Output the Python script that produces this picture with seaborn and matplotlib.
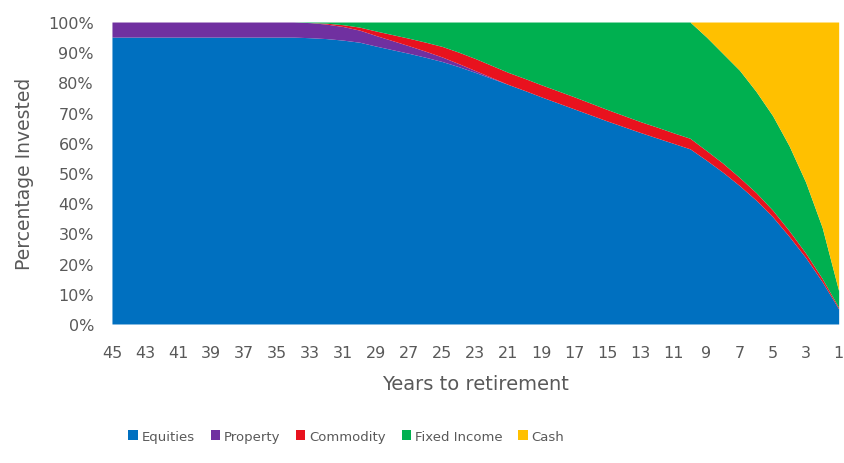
import numpy as np
import pandas as pd
import seaborn as sns
import matplotlib
matplotlib.use("Agg")
import matplotlib.pyplot as plt
from matplotlib.patches import Patch

# Glide path: share of each asset class by years remaining until retirement
years = list(range(45, 0, -1))

equities = [95.0] * 12 + [
    94.8, 94.5, 94.0, 93.3, 92.0, 90.8, 89.6, 88.3, 86.9, 85.2, 83.3, 81.3,
    79.3, 77.3, 75.2, 73.2, 71.2, 69.2, 67.2, 65.3, 63.4, 61.6, 59.8, 58.0,
    54.2, 50.2, 45.8, 41.0, 35.5, 29.0, 22.0, 14.0, 5.0,
]
property_ = [5.0] * 12 + [
    5.0, 4.8, 4.5, 4.0, 3.5, 3.0, 2.5, 2.0, 1.5, 1.0, 0.6, 0.3,
    0.0, 0.0, 0.0, 0.0, 0.0, 0.0, 0.0, 0.0, 0.0, 0.0, 0.0, 0.0,
    0.0, 0.0, 0.0, 0.0, 0.0, 0.0, 0.0, 0.0, 0.0,
]
commodity = [0.0] * 12 + [
    0.0, 0.3, 0.6, 1.0, 1.5, 2.0, 2.5, 3.0, 3.5, 3.8, 4.0, 4.0,
    4.0, 4.0, 4.0, 4.0, 4.0, 3.9, 3.8, 3.7, 3.6, 3.6, 3.5, 3.5,
    3.2, 3.0, 2.7, 2.5, 2.2, 1.9, 1.5, 1.1, 0.5,
]
# upper edge of the fixed-income band (100 until cash starts being added)
fixed_top = [100.0] * 36 + [95.0, 89.5, 84.0, 77.0, 69.0, 59.0, 47.0, 32.0, 11.0]

df = pd.DataFrame({
    "Years": years,
    "Equities": equities,
    "Property": property_,
    "Commodity": commodity,
})
df["Fixed Income"] = np.array(fixed_top) - df[["Equities", "Property", "Commodity"]].sum(axis=1)
df["Cash"] = 100.0 - np.array(fixed_top)

series = ["Equities", "Property", "Commodity", "Fixed Income", "Cash"]
colors = ["#0070C0", "#7030A0", "#E8121E", "#00B050", "#FFC000"]

sns.set_theme(style="white")
plt.rcParams["font.family"] = ["DejaVu Sans"]
text_color = "#595959"

fig = plt.figure(figsize=(8.45, 4.64), dpi=100)
ax = fig.add_axes([0.1325, 0.2996, 0.860, 0.6508])

ax.stackplot(df["Years"], *[df[s] for s in series], colors=colors,
             labels=series, linewidth=0)

ax.set_xlim(45, 1)
ax.set_ylim(0, 100)
ax.set_xticks(list(range(45, 0, -2)))
ax.set_xticklabels([str(v) for v in range(45, 0, -2)])
ax.set_yticks(range(0, 101, 10))
ax.set_yticklabels([f"{v}%" for v in range(0, 101, 10)])
ax.tick_params(axis="both", length=0, labelsize=11.5, colors=text_color)
ax.tick_params(axis="y", pad=13)
ax.tick_params(axis="x", pad=15)
for sp in ax.spines.values():
    sp.set_visible(False)

ax.set_xlabel("Years to retirement", fontsize=14, color=text_color, labelpad=10)
ax.set_ylabel("Percentage Invested", fontsize=13.5, color=text_color, labelpad=10)

handles = [Patch(facecolor=c, edgecolor="none") for c in colors]
fig.legend(handles, series, loc="center", bbox_to_anchor=(0.41, 0.058), ncol=5,
           frameon=False, fontsize=9.5, labelcolor=text_color, handlelength=0.7,
           handleheight=0.7, handletextpad=0.3, columnspacing=1.2)

fig.savefig("out.png", dpi=100)
